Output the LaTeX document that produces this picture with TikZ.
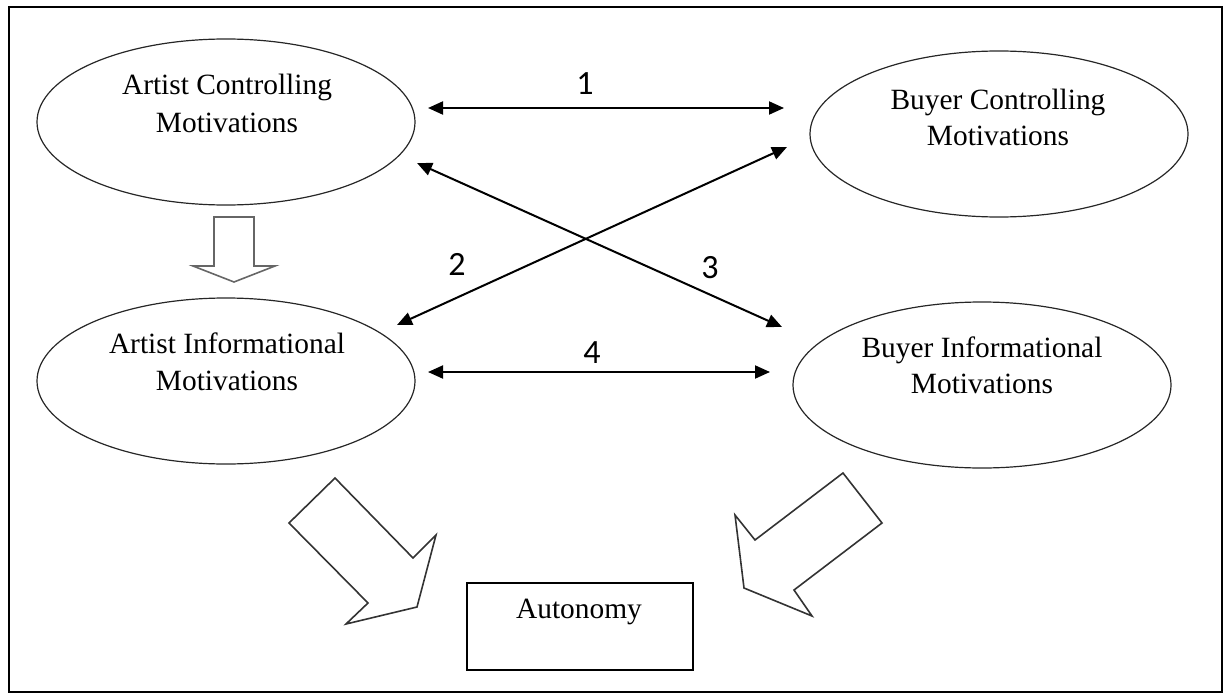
\documentclass[tikz,border=0pt]{standalone}
\usepackage{fontspec}
\setmainfont{Liberation Serif}
\newfontfamily\numfont{Carlito}
\usetikzlibrary{shapes.geometric,arrows.meta}
\begin{document}
\begin{tikzpicture}[x=1pt,y=-1pt,
  ell/.style={draw=black!85,ellipse,line width=1.2pt,inner sep=0pt,minimum width=378pt,minimum height=166pt},
  lbl/.style={anchor=base,inner sep=0pt,font=\fontsize{29.4}{37}\selectfont},
  num/.style={anchor=base,inner sep=0pt,font=\numfont\fontsize{34}{40}\selectfont},
  link/.style={line width=2pt,{Triangle[length=15pt,width=13pt]}-{Triangle[length=15pt,width=13pt]}},
  blockA/.style={draw=black!60,line width=1.6pt,line join=miter},
  blockB/.style={draw=black!80,line width=1.6pt,line join=miter}]
\useasboundingbox (0,0) rectangle (1230,698);
\draw[line width=2.5pt] (9,7) rectangle (1222,692);
% ellipses
\node[ell] (ac) at (226,122) {};
\node[ell] (bc) at (999,134) {};
\node[ell] (ai) at (226,381) {};
\node[ell] (bi) at (982,385) {};
\node[lbl] (acT1) at (227,95) {Artist Controlling};
\node[lbl] (acT2) at (227,132) {Motivations};
\node[lbl] (bcT1) at (998,110) {Buyer Controlling};
\node[lbl] (bcT2) at (998,145) {Motivations};
\node[lbl] (aiT1) at (227,353) {Artist Informational};
\node[lbl] (aiT2) at (227,390) {Motivations};
\node[lbl] (biT1) at (982,357) {Buyer Informational};
\node[lbl] (biT2) at (982,393) {Motivations};
% autonomy box
\node[draw,line width=2pt,minimum width=226pt,minimum height=87pt,inner sep=0pt] (auto) at (580,626.5) {};
\node[lbl] (autoT) at (579,618) {Autonomy};
% connectors
\coordinate (p1a) at (428,108); \coordinate (p1b) at (784,108);
\coordinate (p4a) at (428,372); \coordinate (p4b) at (770,372);
\coordinate (p2a) at (397,325); \coordinate (p2b) at (787,147);
\coordinate (p3a) at (417,163); \coordinate (p3b) at (782,327);
\draw[link] (p1a) -- (p1b);
\draw[link] (p4a) -- (p4b);
\draw[link] (p2a) -- (p2b);
\draw[link] (p3a) -- (p3b);
\node[num] (n1) at (585,95) {1};
\node[num] (n2) at (457,275) {2};
\node[num] (n3) at (710,278) {3};
\node[num] (n4) at (592,363) {4};
% block arrows
\draw[blockA] (214,217) -- (254,217) -- (254,266) -- (275,266) -- (234,282) -- (193,266) -- (214,266) -- cycle;
\draw[blockB] (289,523) -- (335,478) -- (413,558) -- (436,535) -- (417,607) -- (346,624) -- (368,603) -- cycle;
\draw[blockB] (843,473) -- (882,523) -- (794,590) -- (812,616) -- (744,588) -- (735,515) -- (755,540) -- cycle;
\end{tikzpicture}
\end{document}
